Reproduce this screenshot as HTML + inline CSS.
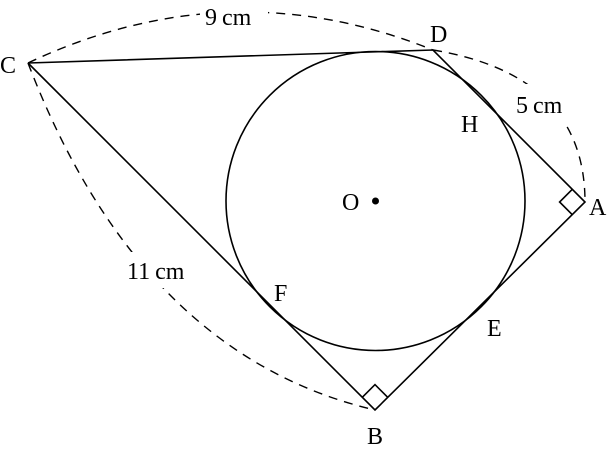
<!DOCTYPE html>
<html><head><meta charset="utf-8"><style>
html,body{margin:0;padding:0;background:#fff;width:614px;height:454px;overflow:hidden}
svg text{font-family:"Liberation Serif",serif;fill:#000}
</style></head><body>
<svg width="614" height="454" viewBox="0 0 614 454" xmlns="http://www.w3.org/2000/svg">
<g fill="none" stroke="#000" stroke-width="1.6">
<circle cx="375.5" cy="201" r="149.5"/>
<polyline points="28,63 433,50 585,202 375,410 28,63"/>
<polyline points="572.3,189.3 559.6,202 572.3,214.7"/>
<polyline points="362.3,397.3 375,384.6 387.7,397.3"/>
</g>
<g fill="none" stroke="#000" stroke-width="1.4" stroke-dasharray="9,7">
<path d="M28,63 Q229,-32 433,50"/>
<path d="M433,50 Q585,75 585,202"/>
<path d="M28,63 Q140,355 375,410"/>
</g>
<rect x="200" y="2" width="68" height="28" fill="#fff"/>
<rect x="512" y="84" width="64" height="40" fill="#fff"/>
<rect x="124" y="252" width="74" height="36" fill="#fff"/>
<circle cx="375.5" cy="201" r="3.5" fill="#000"/>
<g font-size="24">
<text x="205" y="25">9<tspan dx="5">cm</tspan></text>
<text x="516" y="113">5<tspan dx="5">cm</tspan></text>
<text x="127" y="279">11<tspan dx="5">cm</tspan></text>
<text x="0" y="73">C</text>
<text x="430" y="42">D</text>
<text x="589" y="215">A</text>
<text x="367" y="444">B</text>
<text x="461" y="132">H</text>
<text x="487" y="336">E</text>
<text x="274" y="301">F</text>
<text x="342" y="210">O</text>
</g>
</svg>
</body></html>
